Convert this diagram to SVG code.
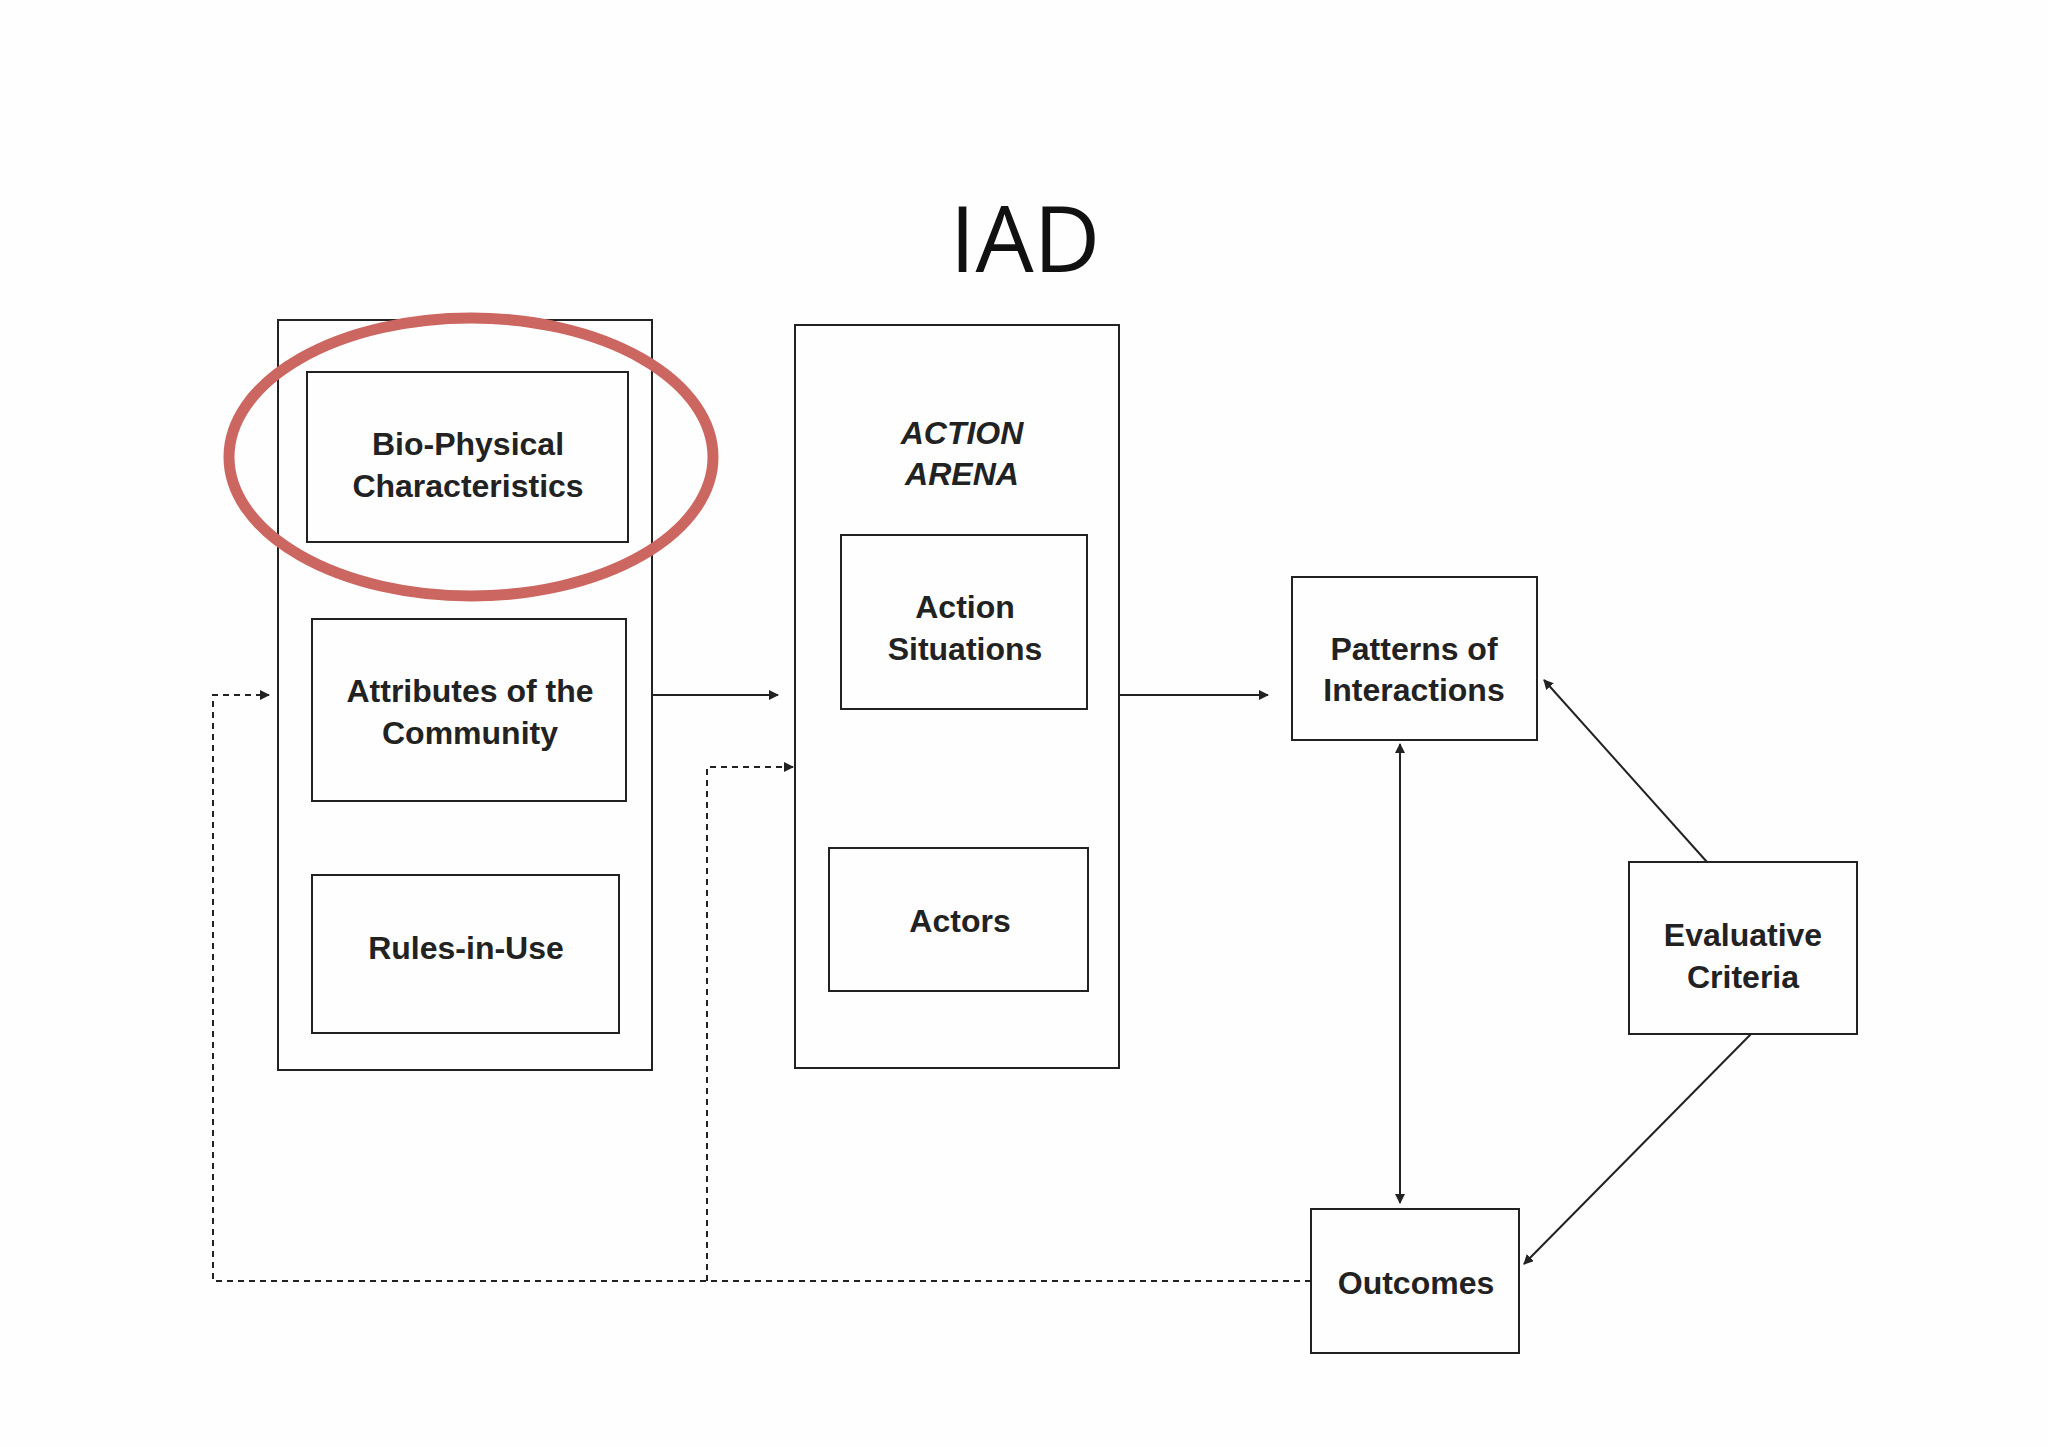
<svg xmlns="http://www.w3.org/2000/svg" width="2048" height="1447" viewBox="0 0 2048 1447">
<defs>
<marker id="ah" viewBox="0 0 10 10" refX="9" refY="5" markerWidth="10" markerHeight="10" markerUnits="userSpaceOnUse" orient="auto-start-reverse"><path d="M0,0 L10,5 L0,10 z" fill="#222"/></marker>
<style>
.b{fill:none;stroke:#222;stroke-width:2}
.t{font-family:"Liberation Sans",Arial,sans-serif;font-weight:bold;font-size:32px;fill:#222;text-anchor:middle;dominant-baseline:central}
.c{stroke:#222;stroke-width:2;fill:none}
.d{stroke:#222;stroke-width:2;fill:none;stroke-dasharray:6,5}
</style>
</defs>
<rect width="2048" height="1447" fill="#fefefe"/>
<text x="1025" y="272" font-family="'Open Sans','Liberation Sans',sans-serif" font-size="92" text-anchor="middle" fill="#111">IAD</text>
<g id="left-box"><rect class="b" x="278" y="320" width="374" height="750"/></g>
<g id="biophysical"><rect class="b" x="307" y="372" width="321" height="170"/><text class="t" x="468" y="444">Bio-Physical</text><text class="t" x="468" y="486">Characteristics</text></g>
<g id="highlight"><ellipse cx="471" cy="457" rx="242" ry="139" fill="none" stroke="#cc6660" stroke-width="11"/></g>
<g id="attributes"><rect class="b" x="312" y="619" width="314" height="182"/><text class="t" x="470" y="691">Attributes of the</text><text class="t" x="470" y="733">Community</text></g>
<g id="rules"><rect class="b" x="312" y="875" width="307" height="158"/><text class="t" x="466" y="948">Rules-in-Use</text></g>
<g id="action-arena"><rect class="b" x="795" y="325" width="324" height="743"/><text class="t" x="962" y="433" font-style="italic">ACTION</text><text class="t" x="962" y="474" font-style="italic">ARENA</text></g>
<g id="action-situations"><rect class="b" x="841" y="535" width="246" height="174"/><text class="t" x="965" y="607">Action</text><text class="t" x="965" y="649">Situations</text></g>
<g id="actors"><rect class="b" x="829" y="848" width="259" height="143"/><text class="t" x="960" y="921">Actors</text></g>
<g id="patterns"><rect class="b" x="1292" y="577" width="245" height="163"/><text class="t" x="1414" y="649">Patterns of</text><text class="t" x="1414" y="690">Interactions</text></g>
<g id="evaluative"><rect class="b" x="1629" y="862" width="228" height="172"/><text class="t" x="1743" y="935">Evaluative</text><text class="t" x="1743" y="977">Criteria</text></g>
<g id="outcomes"><rect class="b" x="1311" y="1209" width="208" height="144"/><text class="t" x="1416" y="1283">Outcomes</text></g>
<g id="connectors">
<line class="c" x1="652" y1="695" x2="778" y2="695" marker-end="url(#ah)"/>
<line class="c" x1="1120" y1="695" x2="1268" y2="695" marker-end="url(#ah)"/>
<line class="c" x1="1400" y1="744" x2="1400" y2="1203" marker-start="url(#ah)" marker-end="url(#ah)"/>
<line class="c" x1="1707" y1="862" x2="1544" y2="680" marker-end="url(#ah)"/>
<line class="c" x1="1751" y1="1034" x2="1524" y2="1264" marker-end="url(#ah)"/>
<polyline class="d" points="1311,1281 213,1281 213,695 269,695" marker-end="url(#ah)"/>
<polyline class="d" points="707,1281 707,767 793,767" marker-end="url(#ah)"/>
</g>
</svg>
